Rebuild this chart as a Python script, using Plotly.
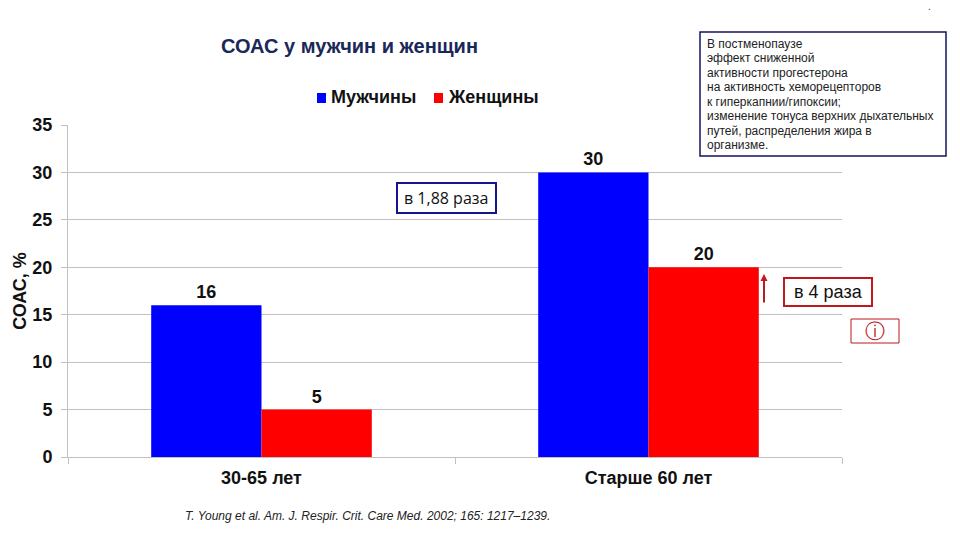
import plotly.graph_objects as go

categories = ["30-65 лет", "Старше 60 лет"]
series_names = ["Мужчины", "Женщины"]
men = [16, 30]
women = [5, 20]
y_ticks = [0, 5, 10, 15, 20, 25, 30, 35]
box_lines = [
    "В постменопаузе",
    "эффект сниженной",
    "активности прогестерона",
    "на активность хеморецепторов",
    "к гиперкапнии/гипоксии;",
    "изменение тонуса верхних дыхательных",
    "путей, распределения жира в",
    "организме.",
]

W, H = 960, 540
L, R, T, B = 68, 118, 125, 83
FONT = "Liberation Sans"
BLUE, RED = "#0000ff", "#ff0000"

def abs_x(x):
    return (x - L) / (W - L - R)

def abs_y(y):
    return 1 - (y - T) / (H - T - B)

def note(x, y, text, size, color="#000000", xanchor="left", family=FONT):
    return dict(xref="paper", yref="paper", x=abs_x(x), y=abs_y(y), text=text, showarrow=False,
                xanchor=xanchor, yanchor="middle", align="left",
                font=dict(family=family, size=size, color=color))

def box(x0, y0, x1, y1, color, width, fill="rgba(0,0,0,0)"):
    return dict(type="rect", xref="paper", yref="paper", x0=abs_x(x0), x1=abs_x(x1),
                y0=abs_y(y0), y1=abs_y(y1), line=dict(color=color, width=width),
                fillcolor=fill)

label_font = dict(family=FONT, size=18, color="#111111", weight="bold")

fig = go.Figure()
fig.add_bar(name=series_names[0], x=categories, y=men, marker_color=BLUE, marker_line_width=0,
            text=men, textposition="outside", textfont=label_font, cliponaxis=False)
fig.add_bar(name=series_names[1], x=categories, y=women, marker_color=RED, marker_line_width=0,
            text=women, textposition="outside", textfont=label_font, cliponaxis=False)

annotations = [
    note(219, 46, "<b>СОАС у мужчин и женщин</b>", 20, "#1a2858"),
    note(446, 198, "в 1,88 раза", 16, "#111111", "center", "Open Sans"),
    note(828, 292, "в 4 раза", 18, "#111111", "center"),
    note(875, 331, "ⓘ", 20, "#c0181f", "center", "DejaVu Serif"),
    note(367, 516, "<i>T. Young et al. Am. J. Respir. Crit. Care Med. 2002; 165: 1217–1239.</i>", 12,
         "#222222", "center"),
    note(930, 6, ".", 10, "#333333", "center"),
    note(329, 97, "<b>%s</b>" % series_names[0], 18, "#111111"),
    note(446, 97, "<b>%s</b>" % series_names[1], 18, "#111111"),
    dict(xref="paper", yref="paper", axref="pixel", ayref="pixel",
         x=abs_x(764), y=abs_y(274), ax=0, ay=30, text="", showarrow=True,
         arrowhead=2, arrowsize=0.7, arrowwidth=2, arrowcolor="#c0181f"),
]
for i, line in enumerate(box_lines):
    annotations.append(note(705, 44 + i * 14.45, line, 12, "#222222"))

shapes = [
    box(700, 32, 946, 156, "#14145e", 1.5),
    box(397, 183, 496, 213, "#14148c", 2),
    box(784, 278, 872, 306, "#c0181f", 2),
    box(851, 319, 899, 343, "#c0181f", 1),
    box(317, 93, 326, 103, BLUE, 0, BLUE),
    box(434, 93, 443, 103, RED, 0, RED),
]

fig.update_layout(
    width=W, height=H, autosize=False,
    margin=dict(l=L, r=R, t=T, b=B),
    paper_bgcolor="#ffffff", plot_bgcolor="#ffffff",
    barmode="group", bargap=0.43, bargroupgap=0,
    showlegend=False,
    font=dict(family=FONT, color="#111111"),
    xaxis=dict(type="category", tickson="boundaries", ticks="outside", ticklen=6,
               tickcolor="#c0c0c0", linecolor="#c0c0c0", showline=True, showgrid=False,
               ticklabelstandoff=4,
               tickfont=dict(family=FONT, size=18, color="#111111", weight="bold"), automargin=False),
    yaxis=dict(range=[0, 35], tickvals=y_ticks, ticks="outside", ticklen=6,
               tickcolor="#c0c0c0", linecolor="#c0c0c0", showline=True, gridcolor="#c0c0c0",
               gridwidth=1, zeroline=False, ticklabelstandoff=5,
               tickfont=dict(family=FONT, size=18, color="#111111", weight="bold"),
               title=dict(text="<b>СОАС, %</b>", standoff=1,
                          font=dict(family=FONT, size=18, color="#111111")),
               automargin=False),
    annotations=annotations, shapes=shapes,
)

fig.write_html("out.html", config={"displayModeBar": False},
               post_script="document.body.style.margin='0';")
